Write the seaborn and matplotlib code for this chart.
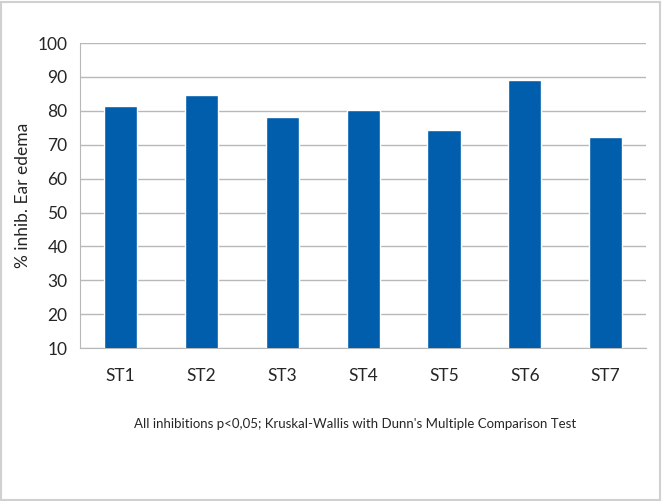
import matplotlib
matplotlib.use("Agg")
import matplotlib.pyplot as plt
import seaborn as sns
import pandas as pd
from matplotlib.patches import Rectangle

categories = ["ST1", "ST2", "ST3", "ST4", "ST5", "ST6", "ST7"]
values = [81.4, 84.7, 78.1, 80.4, 74.3, 89.1, 72.3]
yticks = [10, 20, 30, 40, 50, 60, 70, 80, 90, 100]

sns.set_style("white")
plt.rcParams['font.family'] = ['Lato', 'DejaVu Sans']

df = pd.DataFrame({"cat": categories, "val": values})

fig = plt.figure(figsize=(6.62, 5.01), dpi=100)
ax = fig.add_axes([0.121, 0.305, 0.855, 0.609])
sns.barplot(data=df, x="cat", y="val", color="#005EAC", saturation=1, width=0.41, ax=ax, zorder=3)

ax.set_ylim(10, 100)
ax.set_yticks(yticks)
ax.set_yticklabels([str(t) for t in yticks], fontsize=12.5)
ax.set_xlim(-0.5, len(categories) - 0.5)
ax.grid(axis="y", color="#b8b8b8", linewidth=1, zorder=0)
ax.set_axisbelow(True)
for s in ["top", "right"]:
    ax.spines[s].set_visible(False)
ax.spines["left"].set_color("#b8b8b8")
ax.spines["bottom"].set_color("#b8b8b8")

ax.set_xticks(range(len(categories)))
ax.set_xticklabels(categories, fontsize=12.5)
ax.tick_params(axis="x", length=0, pad=14)
ax.tick_params(axis="y", length=5, color="#b8b8b8", pad=4)
ax.set_xticks([i - 0.5 for i in range(len(categories) + 1)], minor=True)
ax.tick_params(axis="x", which="minor", length=6, color="#b8b8b8", direction="out")

ax.set_xlabel("")
ax.set_ylabel("% inhib. Ear edema", fontsize=12.5, labelpad=5)

fig.text(0.537, 0.153, "All inhibitions p<0,05; Kruskal-Wallis with Dunn's Multiple Comparison Test",
         ha="center", va="center", fontsize=9.5)

fig.patches.append(Rectangle((0.002, 0.002), 0.995, 0.995, transform=fig.transFigure,
                             fill=False, edgecolor="#d0d0d0", linewidth=1.5))

fig.savefig("out.png", dpi=100)
